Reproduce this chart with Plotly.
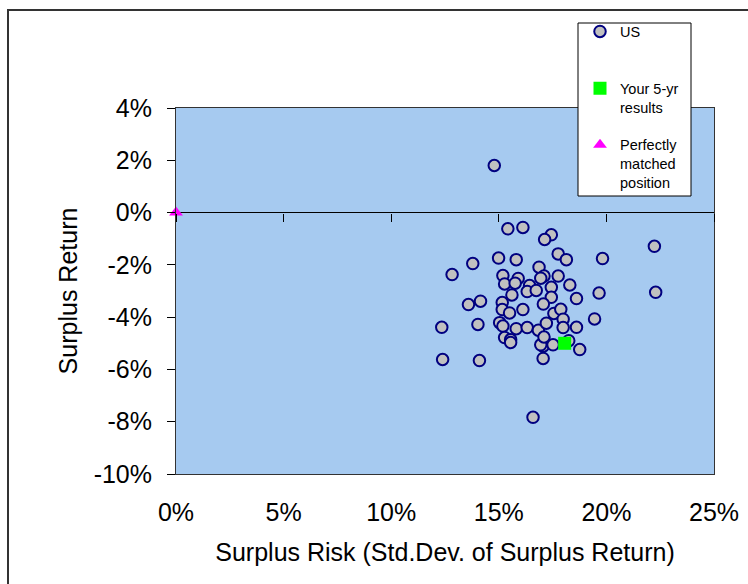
import plotly.graph_objects as go

# ---- data (percent units) ----
us_risk = [14.79, 15.42, 16.12, 17.44, 17.13, 13.79, 14.99, 15.81, 17.76, 18.14, 19.82, 16.87,
           15.19, 15.90, 17.10, 17.76, 16.95, 15.27, 15.76, 16.43, 16.32, 16.74, 17.44, 18.30,
           15.61, 17.44, 18.61, 19.66, 14.15, 13.59, 15.16, 17.07, 15.16, 15.50, 16.12, 17.56,
           17.88, 17.99, 18.61, 14.03, 15.04, 15.19, 15.81, 16.32, 16.84, 17.21, 17.99, 15.27,
           15.55, 15.55, 17.06, 16.95, 17.52, 18.25, 18.76, 17.06, 14.10, 12.35, 12.39, 12.83,
           16.59, 22.23, 22.29, 19.45, 17.10]
us_return = [1.80, -0.62, -0.57, -0.85, -1.03, -1.95, -1.74, -1.80, -1.58, -1.80, -1.76, -2.09,
             -2.41, -2.52, -2.43, -2.43, -2.51, -2.73, -2.70, -2.79, -3.02, -2.98, -2.86, -2.77,
             -3.15, -3.24, -3.29, -3.08, -3.39, -3.52, -3.44, -3.50, -3.71, -3.84, -3.71, -3.86,
             -3.70, -4.08, -4.39, -4.28, -4.21, -4.34, -4.44, -4.40, -4.50, -4.23, -4.40, -4.78,
             -4.86, -4.97, -5.11, -5.06, -5.06, -4.90, -5.24, -5.58, -5.66, -4.39, -5.62, -2.37,
             -7.83, -1.29, -3.05, -4.07, -4.76]

your_risk = [18.06]
your_return = [-5.00]

matched_risk = [0.0]
matched_return = [0.0]

x_tickvals = [0, 5, 10, 15, 20, 25]
x_ticktext = ["0%", "5%", "10%", "15%", "20%", "25%"]
y_tickvals = [4, 2, 0, -2, -4, -6, -8, -10]
y_ticktext = ["4%", "2%", "0%", "-2%", "-4%", "-6%", "-8%", "-10%"]

x_range = [0, 25]
y_range = [-10, 4]

FONT = "Liberation Sans, Arial, sans-serif"

fig = go.Figure()
fig.add_trace(go.Scatter(
    x=us_risk, y=us_return, mode="markers", name="US<br> ",
    legendgroup="a",
    marker=dict(symbol="circle", size=11.5, color="#C0C0C0",
                line=dict(color="#000080", width=2)),
))
fig.add_trace(go.Scatter(
    x=your_risk, y=your_return, mode="markers", name="Your 5-yr<br>results",
    legendgroup="b",
    marker=dict(symbol="square", size=13, color="#00FF00", line=dict(width=0)),
))
fig.add_trace(go.Scatter(
    x=matched_risk, y=matched_return, mode="markers", name="Perfectly<br>matched<br>position",
    legendgroup="c", xaxis="x2", cliponaxis=False,
    marker=dict(symbol="triangle-up", size=12, color="#FF00FF", line=dict(width=0)),
))

zero_pos = (0 - y_range[0]) / (y_range[1] - y_range[0])

fig.update_layout(
    width=748, height=584,
    margin=dict(l=176, r=34, t=108, b=110, autoexpand=False),
    paper_bgcolor="white",
    plot_bgcolor="#A6CAF0",
    font=dict(family=FONT, color="black", size=25),
    showlegend=True,
    legend=dict(
        x=(580 - 176) / 538, y=(474 - 15.5) / 366, xanchor="left", yanchor="top",
        bgcolor="rgba(0,0,0,0)", borderwidth=0,
        font=dict(family=FONT, size=14.5, color="black"),
        traceorder="grouped", tracegroupgap=16, valign="top",
    ),
    xaxis=dict(
        range=x_range, tickvals=x_tickvals, ticktext=x_ticktext,
        showgrid=False, zeroline=False,
        showline=True, linecolor="#333333", linewidth=1, mirror=True,
        ticks="", ticklabelstandoff=16,
        tickfont=dict(size=25),
        title=dict(text="Surplus Risk (Std.Dev. of Surplus Return)",
                   font=dict(size=25), standoff=18),
    ),
    xaxis2=dict(
        matches="x", overlaying="x", anchor="free", position=zero_pos,
        tickvals=x_tickvals, showticklabels=False, ticks="outside",
        ticklen=8, tickcolor="black", tickwidth=1,
        showgrid=False, zeroline=False, showline=False,
    ),
    yaxis=dict(
        range=y_range, tickvals=y_tickvals, ticktext=y_ticktext,
        showgrid=False, zeroline=True, zerolinecolor="black", zerolinewidth=1,
        showline=True, linecolor="#333333", linewidth=1, mirror=True,
        ticks="outside", ticklen=8, tickcolor="black", tickwidth=1,
        ticklabelstandoff=10,
        tickfont=dict(size=25),
        title=dict(text="Surplus Return", font=dict(size=25), standoff=8),
    ),
    shapes=[
        dict(type="rect", xref="paper", yref="paper",
             x0=(8 - 176) / 538, x1=1.5, y0=-0.6, y1=(474 - 10) / 366,
             line=dict(color="#333333", width=2), fillcolor="rgba(0,0,0,0)", layer="above"),
        dict(type="rect", xref="paper", yref="paper",
             x0=(578 - 176) / 538, x1=(691 - 176) / 538,
             y0=(474 - 196) / 366, y1=(474 - 23) / 366,
             line=dict(color="black", width=1), fillcolor="white", layer="above"),
    ],
)

fig.write_html("out.html")
